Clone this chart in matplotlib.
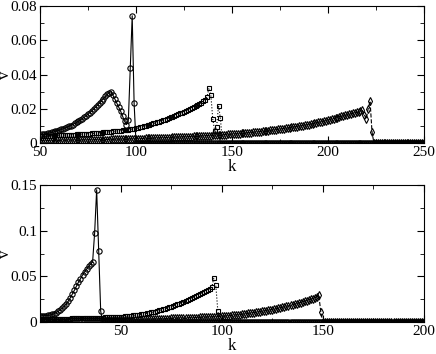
import numpy as np
import matplotlib.pyplot as plt
from matplotlib.ticker import MultipleLocator, FuncFormatter

plt.rcParams['font.family'] = ['Liberation Serif', 'DejaVu Serif']

# v values in units of 1e-3, one per integer k; after the last listed k the series sit at 0
top_k = np.arange(50, 251)
top_circ = [  # k = 50..99
    4.8, 5.0, 5.2, 5.4, 5.6, 5.9, 6.2, 6.5, 6.8, 7.1,
    7.5, 7.9, 8.3, 8.7, 9.2, 9.7, 10.2, 10.8, 11.4, 12.0,
    12.7, 13.4, 14.2, 15.0, 15.9, 16.8, 17.8, 18.8, 19.9, 21.0,
    22.2, 23.4, 24.6, 25.9, 27.2, 28.4, 29.4, 30.0, 27.8, 25.6,
    23.2, 20.9, 18.5, 15.6, 12.8, 10.8, 13.5, 43.6, 74.3, 23.2]
top_sq = [  # k = 50..144
    4.0, 4.05, 4.1, 4.15, 4.2, 4.25, 4.3, 4.35, 4.4, 4.45,
    4.5, 4.55, 4.6, 4.65, 4.7, 4.76, 4.82, 4.88, 4.94, 5.0,
    5.07, 5.14, 5.21, 5.28, 5.36, 5.44, 5.52, 5.61, 5.7, 5.8,
    5.9, 6.0, 6.1, 6.2, 6.3, 6.42, 6.54, 6.66, 6.78, 6.9,
    7.02, 7.15, 7.28, 7.42, 7.56, 7.7, 7.85, 8.0, 8.16, 8.32,
    8.5, 8.8, 9.1, 9.4, 9.7, 10.0, 10.35, 10.7, 11.05, 11.4,
    11.75, 12.1, 12.5, 12.9, 13.3, 13.7, 14.1, 14.5, 14.95, 15.4,
    15.85, 16.3, 16.8, 17.3, 17.8, 18.3, 18.85, 19.4, 19.95, 20.5,
    21.1, 21.7, 22.3, 22.9, 23.6, 24.3, 25.1, 27.0,
    32.0, 28.0, 14.0, 7.0, 9.5, 21.8, 14.4]
top_dia = [  # k = 50..223
    1.30, 1.32, 1.34, 1.36, 1.38, 1.40, 1.42, 1.44, 1.46, 1.48,
    1.50, 1.52, 1.54, 1.56, 1.58, 1.60, 1.62, 1.64, 1.66, 1.68,
    1.70, 1.72, 1.74, 1.76, 1.78, 1.80, 1.82, 1.84, 1.86, 1.88,
    1.90, 1.92, 1.94, 1.96, 1.98, 2.00, 2.03, 2.06, 2.09, 2.12,
    2.15, 2.18, 2.21, 2.24, 2.27, 2.30, 2.33, 2.36, 2.39, 2.42,
    2.45, 2.49, 2.53, 2.57, 2.61, 2.65, 2.69, 2.73, 2.77, 2.81,
    2.85, 2.89, 2.93, 2.97, 3.01, 3.05, 3.10, 3.15, 3.20, 3.25,
    3.30, 3.35, 3.40, 3.45, 3.50, 3.55, 3.60, 3.66, 3.72, 3.78,
    3.84, 3.90, 3.96, 4.02, 4.08, 4.14, 4.20, 4.26, 4.32, 4.38,
    4.44, 4.50, 4.57, 4.64, 4.71, 4.78, 4.85, 4.92, 4.99, 5.06,
    5.13, 5.22, 5.31, 5.40, 5.50, 5.60, 5.70, 5.80, 5.90, 6.00,
    6.10, 6.22, 6.34, 6.46, 6.58, 6.70, 6.82, 6.95, 7.08, 7.21,
    7.35, 7.50, 7.65, 7.80, 7.95, 8.10, 8.26, 8.42, 8.58, 8.74,
    8.90, 9.08, 9.26, 9.44, 9.62, 9.80, 10.0, 10.2, 10.4, 10.6,
    10.8, 11.0, 11.25, 11.5, 11.75, 12.0, 12.25, 12.5, 12.8, 13.1,
    13.4, 13.7, 14.0, 14.3, 14.6, 14.9, 15.2, 15.5, 15.8, 16.1,
    16.4, 16.7, 17.0, 17.3, 17.6, 17.9,
    18.0, 18.5, 19.0, 16.5, 14.0, 20.0, 24.5, 6.5]

bot_k = np.arange(10, 201)
bot_circ = [  # k = 10..40
    7.0, 7.0, 7.1, 7.2, 7.4, 7.8, 8.4, 9.3, 10.5, 11.9,
    13.5, 15.3, 17.5, 20.0, 23.2, 26.8, 30.8, 35.0, 39.5, 43.8,
    47.5, 51.5, 55.0, 58.0, 61.0, 63.5, 66.0, 97.8, 145.0, 77.8,
    12.0]
bot_sq = [  # k = 10..98
    3.20, 3.25, 3.30, 3.35, 3.40, 3.45, 3.50, 3.55, 3.60, 3.65,
    3.70, 3.75, 3.80, 3.85, 3.90, 3.95, 4.00, 4.06, 4.12, 4.18,
    4.24, 4.30, 4.36, 4.42, 4.48, 4.55, 4.62, 4.70, 4.78, 4.86,
    4.94, 5.03, 5.12, 5.21, 5.30, 5.40, 5.50, 5.60, 5.70, 5.80,
    5.95, 6.10, 6.30, 6.50, 6.75, 7.00, 7.30, 7.60, 7.90, 8.20,
    8.55, 8.90, 9.30, 9.70, 10.1, 10.6, 11.1, 11.6, 12.2, 12.8,
    13.4, 14.0, 14.7, 15.4, 16.1, 16.9, 17.7, 18.5, 19.4, 20.3,
    21.2, 22.2, 23.2, 24.2, 25.2, 26.3, 27.4, 28.5, 29.7, 30.9,
    32.1, 33.3, 34.5, 35.6, 36.7, 38.0,
    48.0, 40.5, 12.4]
bot_dia = [  # k = 10..149
    1.50, 1.52, 1.54, 1.56, 1.58, 1.60, 1.62, 1.64, 1.66, 1.68,
    1.70, 1.72, 1.74, 1.76, 1.78, 1.80, 1.82, 1.84, 1.86, 1.88,
    1.90, 1.92, 1.94, 1.96, 1.98, 2.00, 2.03, 2.06, 2.09, 2.12,
    2.15, 2.18, 2.21, 2.24, 2.27, 2.30, 2.33, 2.36, 2.39, 2.42,
    2.45, 2.50, 2.55, 2.60, 2.65, 2.70, 2.76, 2.82, 2.88, 2.94,
    3.00, 3.06, 3.12, 3.18, 3.24, 3.30, 3.37, 3.44, 3.51, 3.58,
    3.65, 3.72, 3.79, 3.86, 3.93, 4.00, 4.08, 4.16, 4.24, 4.32,
    4.40, 4.48, 4.56, 4.64, 4.72, 4.80, 4.89, 4.98, 5.07, 5.16,
    5.25, 5.34, 5.43, 5.52, 5.61, 5.70, 5.80, 5.90, 6.00, 6.10,
    6.25, 6.45, 6.65, 6.85, 7.05, 7.30, 7.55, 7.80, 8.05, 8.30,
    8.60, 8.90, 9.20, 9.50, 9.80, 10.1, 10.4, 10.7, 11.0, 11.4,
    11.8, 12.2, 12.6, 13.0, 13.4, 13.8, 14.2, 14.7, 15.2, 15.7,
    16.2, 16.7, 17.2, 17.8, 18.4, 19.0, 19.6, 20.2, 20.8, 21.5,
    22.2, 22.9, 23.6, 24.3, 25.0, 25.8, 26.6, 27.5,
    29.5, 11.3]


def pad(vals, n):
    v = np.zeros(n)
    v[:len(vals)] = np.array(vals) * 1e-3
    return v


# marker, line style, marker size
styles = [('o', '-', 3.8), ('s', ':', 3.2), ('d', '--', 3.8)]


def panel(ax, k, series, xlim, ylim, xmaj, ymaj):
    for vals, (m, ls, ms) in zip(series, styles):
        ax.plot(k, pad(vals, len(k)), marker=m, ls=ls, color='black', lw=0.8,
                ms=ms, mfc='none', mew=0.8)
    ax.set_xlim(*xlim)
    ax.set_ylim(*ylim)
    ax.xaxis.set_major_locator(MultipleLocator(xmaj))
    ax.xaxis.set_minor_locator(MultipleLocator(xmaj / 2))
    ax.yaxis.set_major_locator(MultipleLocator(ymaj))
    ax.yaxis.set_minor_locator(MultipleLocator(ymaj / 2))
    ax.yaxis.set_major_formatter(FuncFormatter(lambda v, _: '%g' % round(v, 4)))
    ax.tick_params(which='both', direction='in', top=True, right=True, labelsize=11, pad=2)
    ax.tick_params(which='major', length=5)
    ax.tick_params(which='minor', length=3)
    ax.set_xlabel('k', fontsize=12, labelpad=0)
    ax.set_ylabel('v', fontsize=12)
    ax.yaxis.set_label_coords(-0.071, 0.5)


fig = plt.figure(figsize=(4.36, 3.54), dpi=100)
ax1 = fig.add_axes([0.092, 0.596, 0.880, 0.387])
ax2 = fig.add_axes([0.092, 0.090, 0.880, 0.387])

panel(ax1, top_k, [top_circ, top_sq, top_dia], (50, 250), (0, 0.08), 50, 0.02)
panel(ax2, bot_k, [bot_circ, bot_sq, bot_dia], (10, 200), (0, 0.15), 50, 0.05)

fig.savefig('out.png', dpi=100)
